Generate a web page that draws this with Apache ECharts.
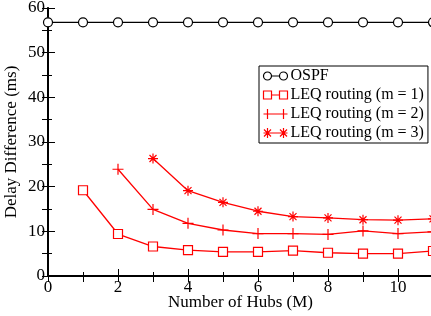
<!DOCTYPE html>
<html>
<head>
<meta charset="utf-8">
<script src="https://cdn.jsdelivr.net/npm/echarts@6/dist/echarts.min.js"></script>
<style>
html, body { margin: 0; padding: 0; background: #fff; }
#chart { width: 431px; height: 316px; }
</style>
</head>
<body>
<div id="chart"></div>
<script>
// data
var hubs = [0, 1, 2, 3, 4, 5, 6, 7, 8, 9, 10, 11];
var ospf = [56.8, 56.8, 56.8, 56.8, 56.8, 56.8, 56.8, 56.8, 56.8, 56.8, 56.8, 56.8];
var leq1 = [null, 19.2, 9.4, 6.6, 5.8, 5.4, 5.4, 5.7, 5.2, 5.0, 5.0, 5.6];
var leq2 = [null, null, 23.9, 14.9, 11.8, 10.3, 9.5, 9.5, 9.3, 10.1, 9.5, 9.9];
var leq3 = [null, null, null, 26.3, 19.1, 16.5, 14.5, 13.3, 13.0, 12.6, 12.5, 12.8];
var names = ['OSPF', 'LEQ routing (m = 1)', 'LEQ routing (m = 2)', 'LEQ routing (m = 3)'];

var FONT = '"Liberation Serif", "DejaVu Serif", serif';
var plusPath = 'path://M0,5L10,5M5,0L5,10';
var starPath = 'path://M0,5L10,5M5,0L5,10M1.5,1.5L8.5,8.5M1.5,8.5L8.5,1.5';

// legend icons: symbol - line - symbol
var legendIcons = [
	'path://M0,5a4,4 0 1,0 8,0a4,4 0 1,0 -8,0M8,5L16,5M16,5a4,4 0 1,0 8,0a4,4 0 1,0 -8,0',
	'path://M0,1h8v8h-8zM8,5h8M16,1h8v8h-8z',
	'path://M0,5h24M4,0v10M20,0v10',
	'path://M0,5h24M4,0v10M20,0v10M0.5,1.5l7,7M0.5,8.5l7,-7M16.5,1.5l7,7M16.5,8.5l7,-7'
];
var legendColors = ['#000', '#f00', '#f00', '#f00'];

function pairs(vals) {
	var out = [];
	for (var i = 0; i < hubs.length; i++) {
		if (vals[i] != null) out.push([hubs[i], vals[i]]);
	}
	return out;
}

function makeSeries(name, vals, color, symbol, size, fill) {
	return {
		name : name,
		type : 'line',
		data : pairs(vals),
		symbol : symbol,
		symbolSize : size,
		showAllSymbol : true,
		clip : false,
		lineStyle : { color : color, width : 1.3 },
		itemStyle : { color : fill, borderColor : color, borderWidth : 1.2 },
		emphasis : { disabled : true },
		animation : false
	};
}

var legendData = [];
for (var i = 0; i < names.length; i++) {
	legendData.push({
		name : names[i],
		icon : legendIcons[i],
		itemStyle : { color : 'none', borderColor : legendColors[i], borderWidth : 1.2 }
	});
}

var chart = echarts.init(document.getElementById('chart'));

var option = {
	animation : false,
	grid : { left : 48, right : -2, top : 8, bottom : 40, containLabel : false, outerBoundsMode : 'none' },
	legend : {
		orient : 'vertical',
		left : 259,
		top : 66,
		width : 168,
		padding : [2, 4, 2, 2],
		itemGap : 3,
		itemWidth : 24,
		itemHeight : 10,
		borderColor : '#000',
		borderWidth : 1,
		backgroundColor : '#fff',
		textStyle : { fontFamily : FONT, fontSize : 16, color : '#000', padding : [0, 0, 0, -2] },
		data : legendData
	},
	xAxis : [{
		type : 'value', min : 0, max : 11, interval : 2,
		name : 'Number of Hubs (M)', nameLocation : 'middle', nameGap : 18, nameMoveOverlap : false,
		nameTextStyle : { fontFamily : FONT, fontSize : 17, color : '#000' },
		axisLine : { lineStyle : { color : '#000', width : 2 } },
		axisTick : { inside : true, length : 7, lineStyle : { color : '#000', width : 1 } },
		minorTick : { show : true, splitNumber : 2, length : 4, lineStyle : { color : '#000' } },
		axisLabel : { fontFamily : FONT, fontSize : 17, color : '#000', margin : 3, showMaxLabel : false },
		splitLine : { show : false }
	}, {
		type : 'value', min : 0, max : 11, interval : 1, position : 'top',
		axisLine : { lineStyle : { color : '#000', width : 1.5 } },
		axisTick : { inside : true, length : 6, lineStyle : { color : '#000', width : 1 } },
		axisLabel : { show : false },
		splitLine : { show : false }
	}],
	yAxis : [{
		type : 'value', min : 0, max : 60, interval : 10,
		name : 'Delay Difference (ms)', nameLocation : 'middle', nameGap : 28, nameMoveOverlap : false,
		nameTextStyle : { fontFamily : FONT, fontSize : 17, color : '#000' },
		axisLine : { lineStyle : { color : '#000', width : 2 } },
		axisTick : { inside : true, length : 7, lineStyle : { color : '#000', width : 1 } },
		minorTick : { show : true, splitNumber : 2, length : 4, lineStyle : { color : '#000' } },
		axisLabel : { fontFamily : FONT, fontSize : 17, color : '#000', margin : 3 },
		splitLine : { show : false }
	}, {
		type : 'value', min : 0, max : 60, interval : 5, position : 'right',
		axisLine : { lineStyle : { color : '#000', width : 1.5 } },
		axisTick : { inside : true, length : 6, lineStyle : { color : '#000', width : 1 } },
		axisLabel : { show : false },
		splitLine : { show : false }
	}],
	series : [
		makeSeries(names[0], ospf, '#000', 'circle', 9, '#fff'),
		makeSeries(names[1], leq1, '#f00', 'rect', 9, '#fff'),
		makeSeries(names[2], leq2, '#f00', plusPath, 11, 'none'),
		makeSeries(names[3], leq3, '#f00', starPath, 10, 'none')
	]
};

chart.setOption(option);
</script>
</body>
</html>
